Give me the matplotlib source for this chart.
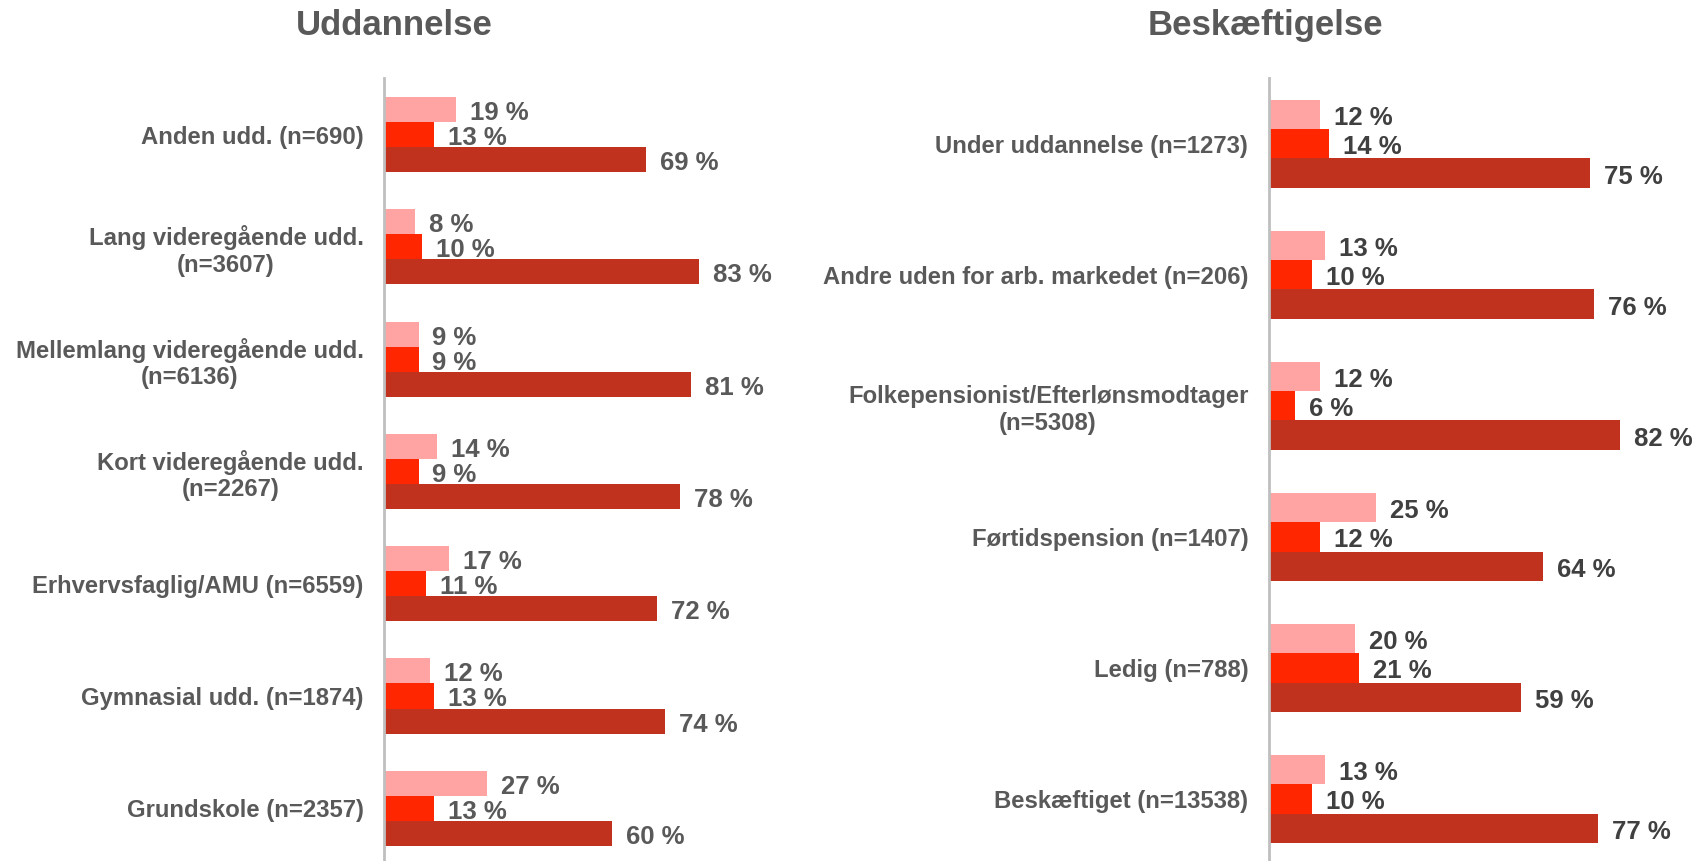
import matplotlib
matplotlib.use("Agg")
import matplotlib.pyplot as plt
import numpy as np

plt.rcParams["font.family"] = ["Liberation Sans", "DejaVu Sans"]
plt.rcParams["font.weight"] = "bold"

# ── Data ─────────────────────────────────────────────────────────────────────
udd_labels = [
    "Anden udd. (n=690)",
    "Lang videregående udd.\n(n=3607)",
    "Mellemlang videregående udd.\n(n=6136)",
    "Kort videregående udd.\n(n=2267)",
    "Erhvervsfaglig/AMU (n=6559)",
    "Gymnasial udd. (n=1874)",
    "Grundskole (n=2357)",
]
udd_s1 = [19, 8, 9, 14, 17, 12, 27]
udd_s2 = [13, 10, 9, 9, 11, 13, 13]
udd_s3 = [69, 83, 81, 78, 72, 74, 60]

besk_labels = [
    "Under uddannelse (n=1273)",
    "Andre uden for arb. markedet (n=206)",
    "Folkepensionist/Efterlønsmodtager\n(n=5308)",
    "Førtidspension (n=1407)",
    "Ledig (n=788)",
    "Beskæftiget (n=13538)",
]
besk_s1 = [12, 13, 12, 25, 20, 13]
besk_s2 = [14, 10, 6, 12, 21, 10]
besk_s3 = [75, 76, 82, 64, 59, 77]

COLORS = ["#FFA3A3", "#FF2600", "#C0321E"]
GREY = "#595959"


def panel(ax, labels, series, title, val_color, title_x):
    n = len(labels)
    y = np.arange(n)
    h = 0.223
    offsets = [-h, 0, h]
    for vals, off, col in zip(series, offsets, COLORS):
        bars = ax.barh(y + off, vals, height=h, color=col, edgecolor="none")
        for b, v in zip(bars, vals):
            ax.annotate(f"{v} %", (b.get_width(), b.get_y() + b.get_height() / 2),
                        xytext=(10, -2.5), textcoords="offset points",
                        ha="left", va="center", fontsize=18.5,
                        fontweight="bold", color=val_color)
    ax.set_xlim(0, 100)
    ax.set_ylim(n - 0.5, -0.5)
    ax.set_yticks(y)
    ax.set_yticklabels(labels, fontsize=17.2, fontweight="bold", color=GREY)
    for lbl in ax.get_yticklabels():
        lbl.set_multialignment("center")
    ax.tick_params(axis="y", length=0, pad=15)
    ax.set_xticks([])
    for s in ["top", "right", "bottom"]:
        ax.spines[s].set_visible(False)
    ax.spines["left"].set_color("#BFBFBF")
    ax.spines["left"].set_linewidth(2)
    ax.figure.text(title_x, 0.97, title, ha="center", va="center",
                   fontsize=25, fontweight="bold", color=GREY)


fig = plt.figure(figsize=(16.98, 8.61), dpi=100)
ax1 = fig.add_axes([0.2264, -0.004, 0.2232, 0.913])
ax2 = fig.add_axes([0.7474, -0.004, 0.2519, 0.913])

panel(ax1, udd_labels, [udd_s1, udd_s2, udd_s3], "Uddannelse", GREY, 0.232)
panel(ax2, besk_labels, [besk_s1, besk_s2, besk_s3], "Beskæftigelse", "#404040", 0.745)

fig.patch.set_facecolor("white")
plt.savefig("out.png", dpi=100)
